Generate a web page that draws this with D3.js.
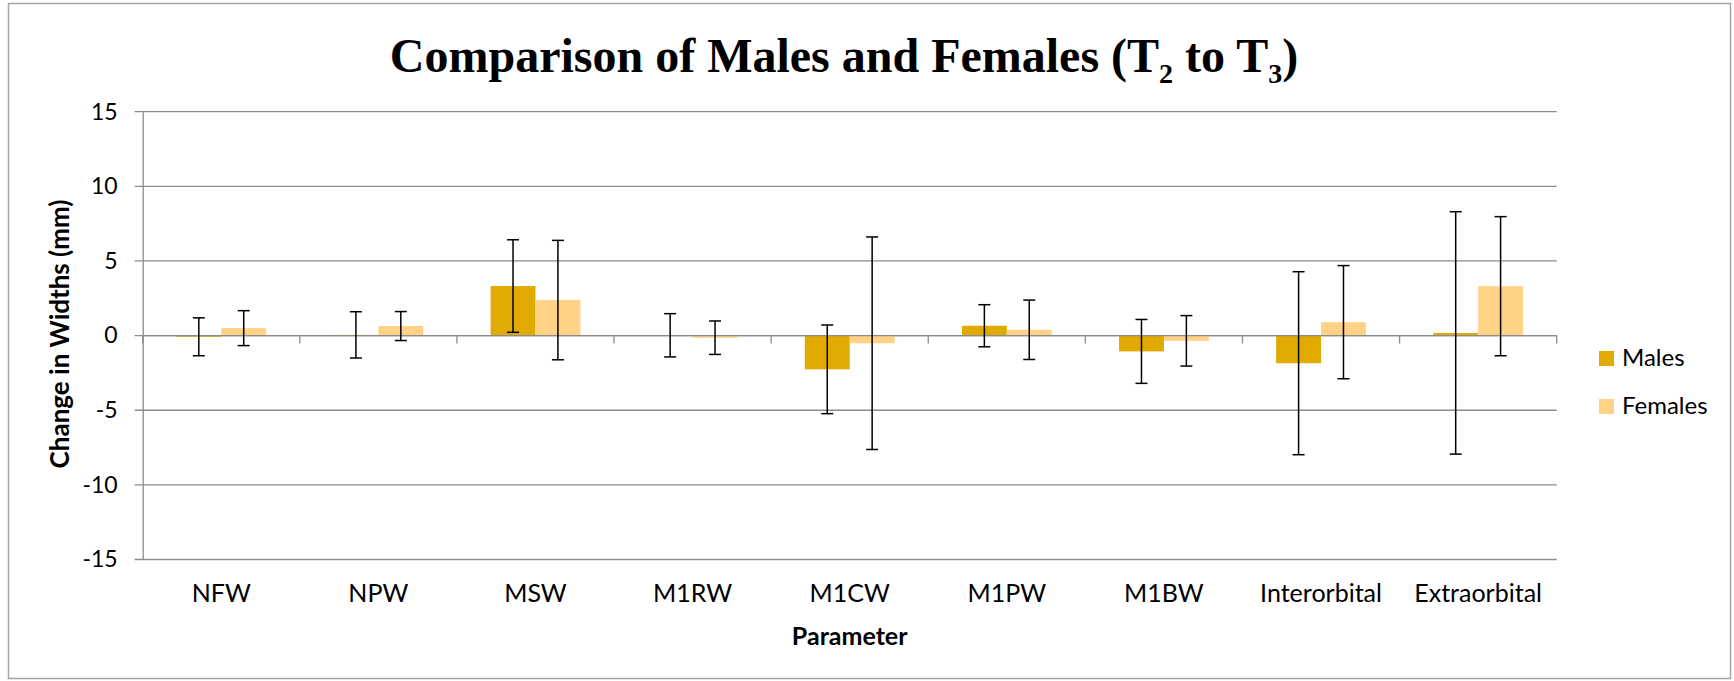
<!DOCTYPE html>
<html>
<head>
<meta charset="utf-8">
<script src="https://cdn.jsdelivr.net/npm/d3@7"></script>
<style>
  body { margin: 0; background: #fff; }
  text { font-family: Lato, 'Open Sans', sans-serif; fill: #000; }
</style>
</head>
<body>
<div id="chart"></div>
<script>
const categories = ['NFW', 'NPW', 'MSW', 'M1RW', 'M1CW', 'M1PW', 'M1BW', 'Interorbital', 'Extraorbital'];
const seriesNames = ['Males', 'Females'];
const males = [-0.08, 0.05, 3.32, 0.02, -2.26, 0.66, -1.06, -1.85, 0.18];
const maleErr = [1.27, 1.55, 3.1, 1.45, 2.97, 1.41, 2.14, 6.13, 8.12];
const females = [0.5, 0.64, 2.38, -0.14, -0.51, 0.39, -0.35, 0.9, 3.31];
const femaleErr = [1.17, 0.97, 4.0, 1.12, 7.12, 1.99, 1.69, 3.79, 4.66];
const yTicks = [-15, -10, -5, 0, 5, 10, 15];

const w = 1734;
const h = 681;
const plotLeft = 142.7, plotRight = 1556.7, plotTop = 111.7, plotBottom = 559.5;
const colors = {Males: '#e0aa00', Females: '#ffd286'};
const gap = 1.5 / 3.5;

const rows = [];
categories.forEach((c, i) => {
  rows.push({cat: c, s: 'Males', v: males[i], e: maleErr[i]});
  rows.push({cat: c, s: 'Females', v: females[i], e: femaleErr[i]});
});

const x0 = d3.scaleBand()
  .domain(categories)
  .range([plotLeft, plotRight])
  .paddingInner(gap)
  .paddingOuter(gap / 2);

const x1 = d3.scaleBand()
  .domain(seriesNames)
  .range([0, x0.bandwidth()]);

const y = d3.scaleLinear()
  .domain([-15, 15])
  .range([plotBottom, plotTop]);

const svg = d3.select('#chart')
  .append('svg')
  .attr('width', w)
  .attr('height', h);

svg.append('rect')
  .attr('x', 8.5).attr('y', 3.5)
  .attr('width', 1722).attr('height', 675)
  .attr('fill', 'none')
  .attr('stroke', '#a6a6a6')
  .attr('stroke-width', 1.5);

// gridlines
svg.append('g')
  .selectAll('line')
  .data(yTicks)
  .enter()
  .append('line')
  .attr('x1', plotLeft - 8)
  .attr('x2', plotRight)
  .attr('y1', d => y(d))
  .attr('y2', d => y(d))
  .attr('stroke', '#8c8c8c')
  .attr('stroke-width', 1.3);

const yAxis = d3.axisLeft(y)
  .tickValues(yTicks)
  .tickFormat(d => String(d))
  .tickSize(0)
  .tickPadding(25);

svg.append('g')
  .attr('id', 'y-axis')
  .attr('transform', 'translate(' + plotLeft + ',0)')
  .call(yAxis)
  .call(g => g.select('.domain').attr('stroke', '#8c8c8c').attr('stroke-width', 1.3))
  .selectAll('text')
  .style('font-size', '23px')
  .style('font-family', 'Lato, sans-serif');

// bars
svg.append('g')
  .selectAll('rect')
  .data(rows)
  .enter()
  .append('rect')
  .attr('x', d => x0(d.cat) + x1(d.s))
  .attr('y', d => y(Math.max(0, d.v)))
  .attr('width', x1.bandwidth())
  .attr('height', d => Math.abs(y(d.v) - y(0)))
  .attr('fill', d => colors[d.s]);

// x axis at zero
const boundaries = categories.map(c => x0(c) - x0.step() * gap / 2).concat([plotRight]);
svg.append('line')
  .attr('x1', plotLeft).attr('x2', plotRight)
  .attr('y1', y(0)).attr('y2', y(0))
  .attr('stroke', '#8c8c8c')
  .attr('stroke-width', 1.3);
svg.append('g')
  .selectAll('line')
  .data(boundaries)
  .enter()
  .append('line')
  .attr('x1', d => d).attr('x2', d => d)
  .attr('y1', y(0)).attr('y2', y(0) + 8)
  .attr('stroke', '#8c8c8c')
  .attr('stroke-width', 1.3);

// error bars
const eb = svg.append('g')
  .selectAll('g')
  .data(rows)
  .enter()
  .append('g')
  .attr('stroke', '#000')
  .attr('stroke-width', 1.5);
const cx = d => x0(d.cat) + x1(d.s) + x1.bandwidth() / 2;
eb.append('line')
  .attr('x1', cx).attr('x2', cx)
  .attr('y1', d => y(d.v + d.e))
  .attr('y2', d => y(d.v - d.e));
eb.append('line')
  .attr('x1', d => cx(d) - 6).attr('x2', d => cx(d) + 6)
  .attr('y1', d => y(d.v + d.e)).attr('y2', d => y(d.v + d.e));
eb.append('line')
  .attr('x1', d => cx(d) - 6).attr('x2', d => cx(d) + 6)
  .attr('y1', d => y(d.v - d.e)).attr('y2', d => y(d.v - d.e));

// category labels
svg.append('g')
  .selectAll('text')
  .data(categories)
  .enter()
  .append('text')
  .attr('x', d => x0(d) + x0.bandwidth() / 2)
  .attr('y', 602)
  .attr('text-anchor', 'middle')
  .style('font-size', '25px')
  .text(d => d);

// title
const title = svg.append('text')
  .attr('x', 844)
  .attr('y', 71.7)
  .attr('text-anchor', 'middle')
  .style('font-family', "'Liberation Serif', 'Times New Roman', serif")
  .style('font-weight', 'bold')
  .style('font-size', '48px');
title.append('tspan').text('Comparison of Males and Females (T');
title.append('tspan').attr('dy', 11.6).style('font-size', '28px').text('2');
title.append('tspan').attr('dy', -11.6).text(' to T');
title.append('tspan').attr('dy', 11.6).style('font-size', '28px').text('3');
title.append('tspan').attr('dy', -11.6).text(')');

svg.append('text')
  .attr('transform', 'translate(69,334) rotate(-90)')
  .attr('text-anchor', 'middle')
  .style('font-weight', 'bold')
  .style('font-size', '26px')
  .text('Change in Widths (mm)');

svg.append('text')
  .attr('x', (plotLeft + plotRight) / 2)
  .attr('y', 645)
  .attr('text-anchor', 'middle')
  .style('font-weight', 'bold')
  .style('font-size', '25px')
  .text('Parameter');

// legend
const legend = svg.append('g')
  .selectAll('g')
  .data(seriesNames)
  .enter()
  .append('g')
  .attr('transform', (d, i) => 'translate(1599,' + (351 + i * 48) + ')');
legend.append('rect')
  .attr('width', 15)
  .attr('height', 15)
  .attr('fill', d => colors[d]);
legend.append('text')
  .attr('x', 23)
  .attr('y', 15)
  .style('font-size', '24px')
  .text(d => d);
</script>
</body>
</html>
